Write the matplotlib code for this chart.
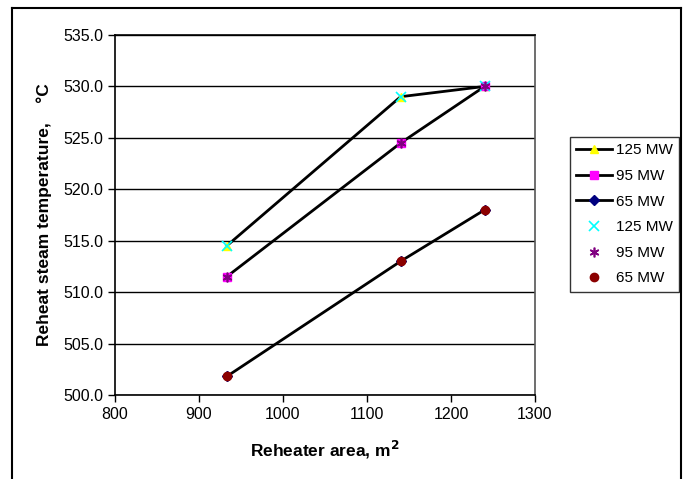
import matplotlib
matplotlib.use("Agg")
import matplotlib.pyplot as plt
from matplotlib.lines import Line2D

plt.rcParams['font.family'] = ['Liberation Sans', 'DejaVu Sans']

area = [933, 1140, 1240]
t125 = [514.5, 529.0, 530.0]
t95 = [511.5, 524.5, 530.0]
t65 = [501.8, 513.0, 518.0]
labels = ["125 MW", "95 MW", "65 MW"]
xticks = [800, 900, 1000, 1100, 1200, 1300]
yticks = [500.0, 505.0, 510.0, 515.0, 520.0, 525.0, 530.0, 535.0]

fig = plt.figure(figsize=(6.86, 4.79), dpi=100)
ax = fig.add_axes([115/686, 1-395/479, 420/686, 360/479])

ax.plot(area, t125, color='black', lw=2, marker='^', ms=6, mfc='yellow', mec='yellow', label=labels[0])
ax.plot(area, t95, color='black', lw=2, marker='s', ms=6, mfc='magenta', mec='magenta', label=labels[1])
ax.plot(area, t65, color='black', lw=2, marker='D', ms=5, mfc='navy', mec='navy', label=labels[2])
ax.plot(area, t125, ls='none', marker='x', ms=7, mew=1.2, color='cyan', label=labels[0])
ax.plot(area, t95, ls='none', marker=(6, 2, 0), ms=7, mew=1.2, color='purple', label=labels[1])
ax.plot(area, t65, ls='none', marker='o', ms=6, color='darkred', label=labels[2])

ax.set_xlim(800, 1300)
ax.set_ylim(500, 535)
ax.set_xticks(xticks)
ax.set_yticks(yticks)
ax.set_yticklabels([f"{v:.1f}" for v in yticks])
ax.tick_params(direction='out', length=5, width=1, labelsize=11.5, colors='black')
ax.grid(axis='y', color='black', lw=1)
ax.set_axisbelow(True)
for s in ax.spines.values():
    s.set_linewidth(1.2)
ax.spines['right'].set_color('#555555')

ax.set_xlabel("Reheater area, m$^\\mathbf{2}$", fontsize=12.5, fontweight='bold', labelpad=12)
ax.set_ylabel("Reheat steam temperature,    °C", fontsize=12.5, fontweight='bold', labelpad=8)

leg = ax.legend(loc='upper left', bbox_to_anchor=(570/686, 1-137/479), bbox_transform=fig.transFigure,
                fontsize=11, frameon=True, fancybox=False, edgecolor='black', handlelength=2.35,
                labelspacing=0.76, borderpad=0.42, handletextpad=0.25, borderaxespad=0)
leg.get_frame().set_linewidth(1)

# outer border
fig.add_artist(Line2D([12/686, 12/686], [0, 1-8/479], transform=fig.transFigure, color='black', lw=1.5))
fig.add_artist(Line2D([12/686, 681/686], [1-8/479, 1-8/479], transform=fig.transFigure, color='black', lw=1.5))
fig.add_artist(Line2D([681/686, 681/686], [0, 1-8/479], transform=fig.transFigure, color='black', lw=1.5))

fig.savefig("out.png", dpi=100)
